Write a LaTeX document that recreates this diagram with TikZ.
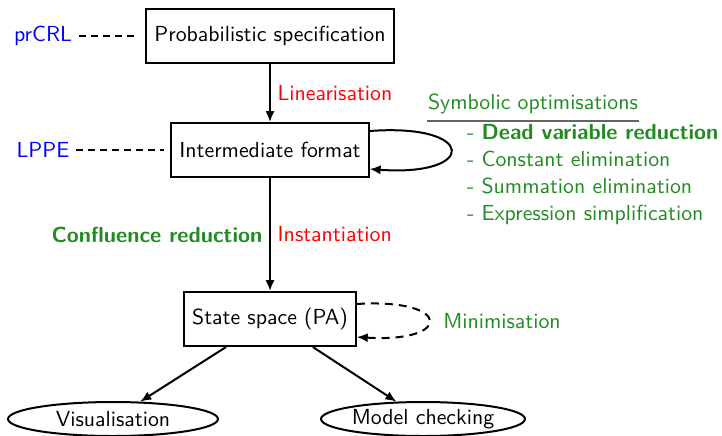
\documentclass[tikz,border=0pt]{standalone}
\usepackage{fontspec}
\renewcommand{\familydefault}{\sfdefault}
\usetikzlibrary{shapes.geometric,arrows.meta}
\definecolor{optgreen}{RGB}{34,139,34}

\begin{document}
\begin{tikzpicture}[x=0.5pt, y=-0.5pt, >={Latex[length=5.5pt,width=4.6pt]},
  every node/.style={font=\fontsize{10.9}{13.5}\selectfont},
  stage/.style={shape=rectangle, draw=black, line width=1pt, minimum height=27pt, inner xsep=4pt},
  tool/.style={shape=ellipse, draw=black, line width=1pt, minimum height=17pt, inner sep=0pt},
  flow/.style={->, line width=1pt, draw=black},
  link/.style={dash pattern=on 3.5pt off 2.5pt, line width=1pt, draw=black},
  lang/.style={text=blue},
  trans/.style={text=red},
  opt/.style={text=optgreen}]
\useasboundingbox (0,0) rectangle (722,435);
% main stages
\node[stage] (spec) at (270,36) {Probabilistic specification};
\node[stage] (inter) at (270,150) {Intermediate format};
\node[stage] (state) at (270,319) {State space (PA)};
\node[tool, minimum width=105pt] (vis) at (113,419) {Visualisation};
\node[tool, minimum width=102pt] (mc) at (423,419) {Model checking};
% languages
\node[lang] (prcrl) at (43,36) {prCRL};
\node[lang] (lppe) at (43,150) {LPPE};
\path [link, shorten >=5pt] (prcrl) edge (spec);
\path [link, shorten >=3pt] (lppe) edge (inter);
% transformations
\path [flow] (spec) edge node[right, trans] {Linearisation} (inter);
\path [flow] (inter) edge node[right, trans] {Instantiation}
  node[left, opt, font=\fontsize{10.9}{13.5}\selectfont\bfseries] {Confluence reduction} (state);
\path [flow] (state) edge (vis);
\path [flow] (state) edge (mc);
% optimisations
\draw [flow] ([yshift=9.5pt]inter.east) .. controls +(108,-8) and +(108,8) .. ([yshift=-9.5pt]inter.east);
\node[opt] (symb) at (533,104) {Symbolic optimisations};
\draw [gray!80!black, line width=0.8pt, shorten <=3pt, shorten >=3pt] (symb.south west) -- (symb.south east);
\node[opt, anchor=west, align=left] (optlist) at (460,174.5)
  {- \textbf{Dead variable reduction}\\- Constant elimination\\- Summation elimination\\- Expression simplification};
\draw [flow, dash pattern=on 4pt off 3pt] ([yshift=7.5pt]state.east) .. controls +(96,-6) and +(96,6) .. ([yshift=-9pt]state.east);
\node[opt] (mini) at (502,321) {Minimisation};
\end{tikzpicture}
\end{document}
